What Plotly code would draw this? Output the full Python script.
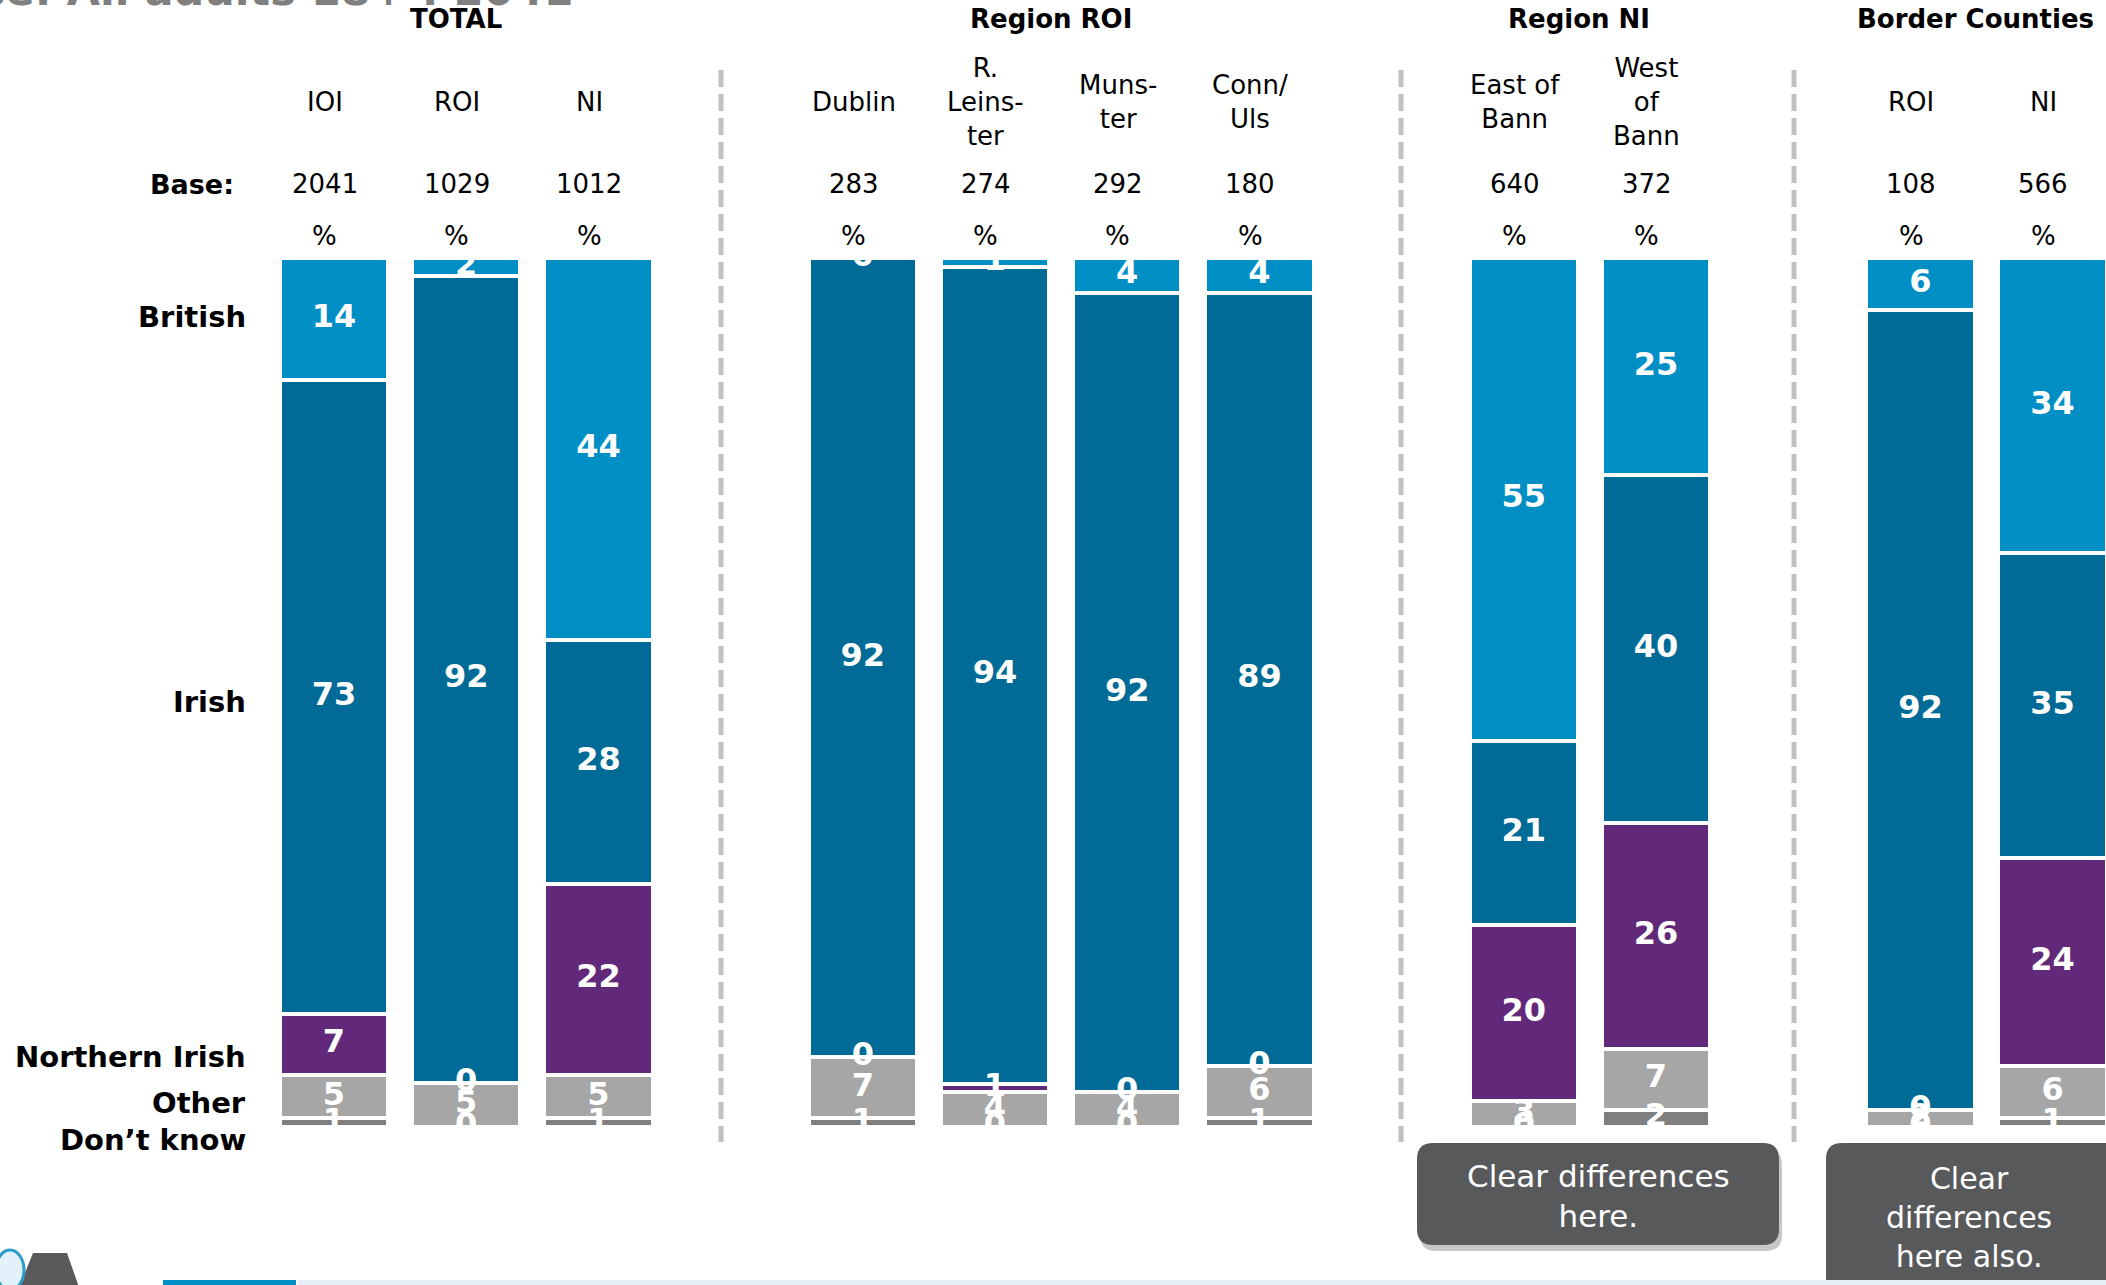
import plotly.graph_objects as go

# Values (%), one entry per column
groups = ["TOTAL", "Region ROI", "Region NI", "Border Counties"]
columns = ["IOI", "ROI", "NI",
           "Dublin", "R.<br>Leins-<br>ter", "Muns-<br>ter", "Conn/<br>Uls",
           "East of<br>Bann", "West<br>of<br>Bann",
           "ROI", "NI"]
column_group = [0, 0, 0, 1, 1, 1, 1, 2, 2, 3, 3]
bases = [2041, 1029, 1012, 283, 274, 292, 180, 640, 372, 108, 566]

british = [14, 2, 44, 0, 1, 4, 4, 55, 25, 6, 34]
irish = [73, 92, 28, 92, 94, 92, 89, 21, 40, 92, 35]
northern_irish = [7, 0, 22, 0, 1, 0, 0, 20, 26, 0, 24]
other = [5, 5, 5, 7, 4, 4, 6, 3, 7, 2, 6]
dont_know = [1, 0, 1, 1, 0, 0, 1, 0, 2, 0, 1]

row_labels = ["British", "Irish", "Northern Irish", "Other", "Don’t know"]
callouts = ["Clear differences<br>here.", "Clear<br>differences<br>here also."]
title = "Base: All adults 18+ : 2041"

# page geometry (pixels)
W, H = 2106, 1285
TOP, BOTTOM = 258, 1127
X0, STEP = 334, 132.2


def px(x):
    return x / W


def py(y):
    return (BOTTOM - y) / (BOTTOM - TOP)


FONT = "DejaVu Sans"
xpos = [i + g for i, g in enumerate(column_group)]

# stacked from the bottom up
stack = [
    ("Don’t know", dont_know, "#7F7F7F"),
    ("Other", other, "#A6A6A6"),
    ("Northern Irish", northern_irish, "#62297A"),
    ("Irish", irish, "#006B96"),
    ("British", british, "#008FC5"),
]

fig = go.Figure()
for name, vals, color in stack:
    fig.add_trace(go.Bar(
        x=xpos, y=vals, name=name, width=0.82,
        marker=dict(color=color, line=dict(color="white", width=4)),
        hoverinfo="name+y",
    ))

# value labels at the middle of each segment (stacks normalised to 100)
totals = [sum(s[1][i] for s in stack) for i in range(len(xpos))]
cum = [0] * len(xpos)
for name, vals, color in stack:
    centers = []
    for i, v in enumerate(vals):
        centers.append((cum[i] + v / 2) / totals[i] * 100)
        cum[i] += v
    fig.add_trace(go.Scatter(
        x=xpos, y=centers, mode="text", text=[str(v) for v in vals],
        textposition="middle center",
        textfont=dict(family=FONT, size=32, color="white", weight="bold"),
        cliponaxis=True, hoverinfo="skip",
    ))


def note(text, x, y, size, xref="paper", xanchor="center", yanchor="middle", color="black", bold=False):
    return dict(x=x, xref=xref, y=y, yref="paper", xanchor=xanchor, yanchor=yanchor,
                text=text, showarrow=False,
                font=dict(family=FONT, size=size, color=color, weight="bold" if bold else "normal"))


annotations = []
# group headings
for g, label in enumerate(groups):
    members = [xpos[i] for i in range(len(xpos)) if column_group[i] == g]
    annotations.append(note(label, sum(members) / len(members) - 0.08, py(19), 26, xref="x", bold=True))
# column labels, bases, % row
for i, col in enumerate(columns):
    for txt, yy in ((col, 102), (str(bases[i]), 184), ("%", 236)):
        annotations.append(note(txt, xpos[i] - 0.07, py(yy), 26, xref="x"))
annotations.append(note("Base:", px(236), py(184), 27, xanchor="right", bold=True))
# row labels
for label, yy in zip(row_labels, [317, 702, 1057, 1103, 1140]):
    annotations.append(note(label, px(248), py(yy), 29, xanchor="right", bold=True))
# title, cut by the top edge
annotations.append(note(title, px(575), py(17), 43, xanchor="right", yanchor="bottom",
                        color="#7F7F7F", bold=True))


def rounded(x0, y0, x1, y1, r):
    pts = [("M", [(x0 + r, y0)]), ("L", [(x1 - r, y0)]), ("Q", [(x1, y0), (x1, y0 + r)]),
           ("L", [(x1, y1 - r)]), ("Q", [(x1, y1), (x1 - r, y1)]), ("L", [(x0 + r, y1)]),
           ("Q", [(x0, y1), (x0, y1 - r)]), ("L", [(x0, y0 + r)]), ("Q", [(x0, y0), (x0 + r, y0)])]
    path = ""
    for cmd, ps in pts:
        path += cmd + " " + " ".join(f"{px(a):.5f},{py(b):.5f}" for a, b in ps) + " "
    return path + "Z"


shapes = []
# dashed separators
for xx in (721, 1401, 1794):
    shapes.append(dict(type="line", xref="paper", yref="paper", x0=px(xx), x1=px(xx),
                       y0=py(70), y1=py(1142), line=dict(color="#C0C0C0", width=5, dash="17px,7px")))
# callout boxes with a soft shadow
boxes = [(1417, 1143, 1779, 1245), (1826, 1143, 2140, 1310)]
for (bx0, by0, bx1, by1), txt in zip(boxes, callouts):
    shapes.append(dict(type="path", xref="paper", yref="paper", path=rounded(bx0 + 3, by0 + 6, bx1 + 3, by1 + 6, 16),
                       fillcolor="rgba(0,0,0,0.22)", line=dict(width=0)))
    shapes.append(dict(type="path", xref="paper", yref="paper", path=rounded(bx0, by0, bx1, by1, 16),
                       fillcolor="#58595B", line=dict(width=0)))
annotations.append(note(callouts[0], px(1598), py(1196), 31, color="white"))
annotations.append(note(callouts[1], px(1969), py(1217), 30, color="white"))
# footer strip and logo fragment
shapes.append(dict(type="rect", xref="paper", yref="paper", x0=px(163), x1=px(296), y0=py(1280), y1=py(1290),
                   fillcolor="#0090C6", line=dict(width=0)))
shapes.append(dict(type="rect", xref="paper", yref="paper", x0=px(298), x1=px(W), y0=py(1280), y1=py(1290),
                   fillcolor="#E6EEF7", line=dict(width=0)))
shapes.append(dict(type="path", xref="paper", yref="paper",
                   path=f"M {px(33)},{py(1253)} L {px(67)},{py(1253)} L {px(80)},{py(1290)} L {px(18)},{py(1290)} Z",
                   fillcolor="#5A5A5A", line=dict(width=0)))
shapes.append(dict(type="circle", xref="paper", yref="paper", x0=px(-4), x1=px(24), y0=py(1290), y1=py(1250),
                   fillcolor="#E3F2FA", line=dict(color="#2E9CCB", width=3)))

fig.update_layout(
    width=W, height=H,
    margin=dict(l=0, r=0, t=TOP, b=H - BOTTOM, pad=0),
    barmode="stack", barnorm="percent", bargap=0,
    showlegend=False,
    plot_bgcolor="white", paper_bgcolor="white",
    xaxis=dict(range=[-X0 / STEP, (W - X0) / STEP], visible=False, fixedrange=True),
    yaxis=dict(range=[0, 100], visible=False, fixedrange=True),
    annotations=annotations,
    shapes=shapes,
)

fig.write_html("out.html", config={"displayModeBar": False},
               post_script="document.body.style.margin='0';document.body.style.overflow='hidden';")
